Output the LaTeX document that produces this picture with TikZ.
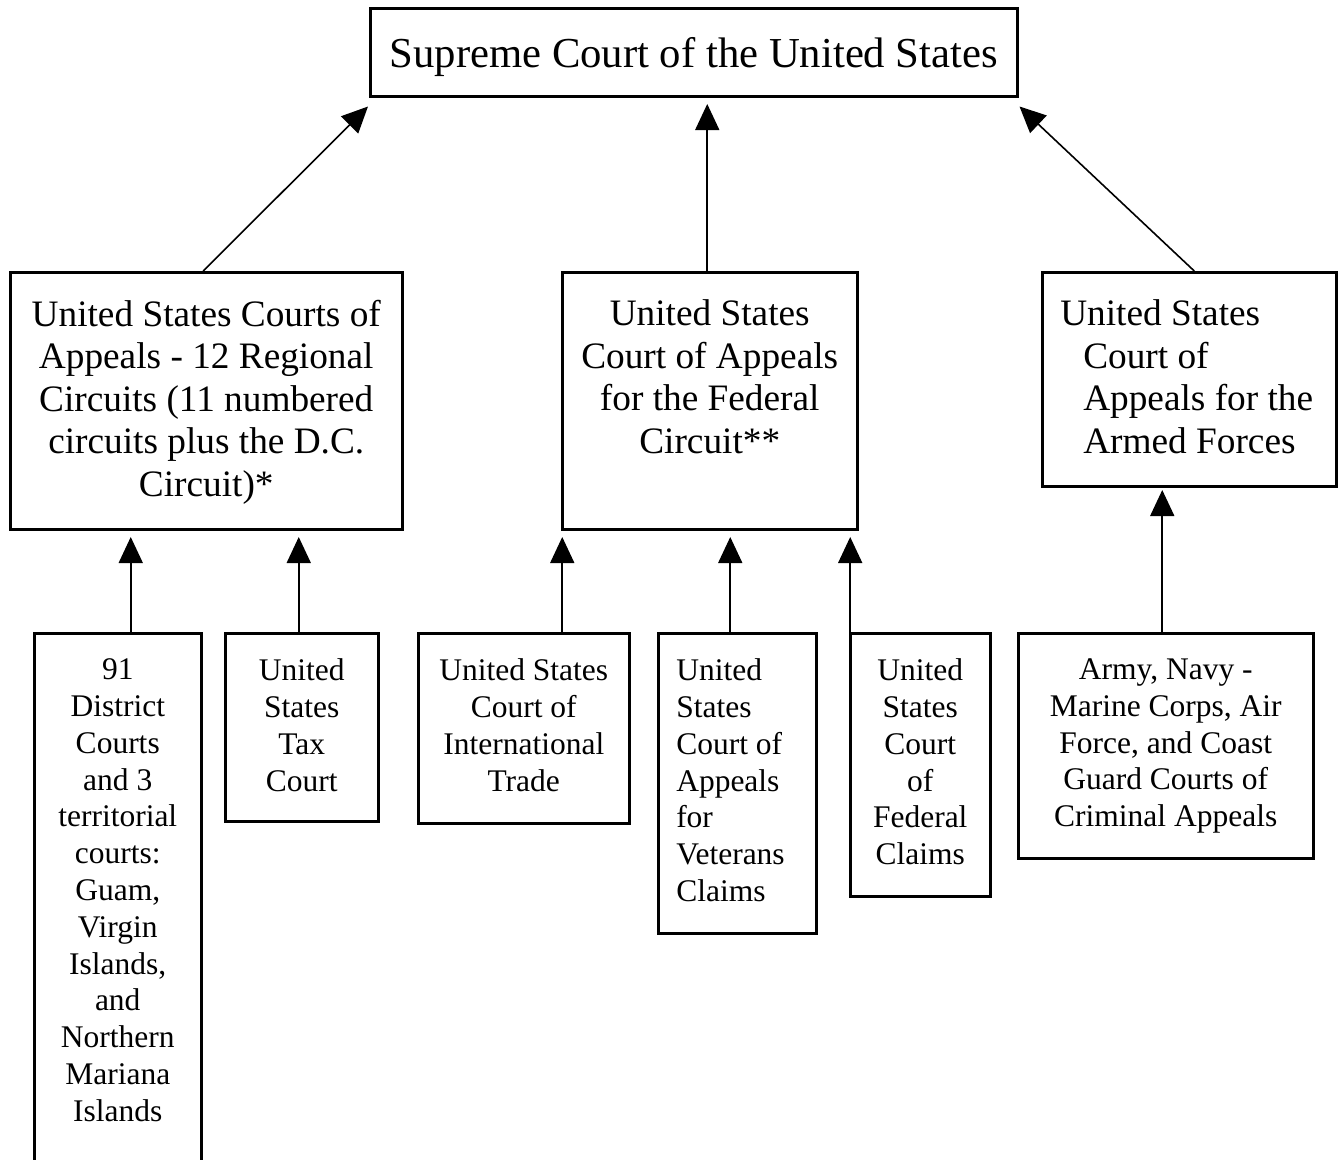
\documentclass[tikz,border=0pt]{standalone}
\usepackage{fontspec}
\setmainfont{Liberation Serif}
\usetikzlibrary{arrows.meta}

% text block of a court box: width, height, top pad, text
\newcommand{\courtbody}[4]{\parbox[t][#2pt][t]{#1pt}{\vspace*{#3pt}#4}}
\newcommand{\courtTop}{\fontsize{42.7pt}{49pt}\selectfont}
\newcommand{\courtMid}{\fontsize{37.3pt}{42.5pt}\selectfont}
\newcommand{\courtLow}{\fontsize{31.5pt}{36.8pt}\selectfont}

\begin{document}
\begin{tikzpicture}[x=1pt, y=-1pt,
  court/.style={draw, line width=2.5pt, inner sep=0pt, anchor=north west},
  up/.style={line width=1.6pt, -{Triangle[length=26pt, width=24pt]}}]
\useasboundingbox (0,0) rectangle (1343,1159);
% top
\node[court] (sup) at (369,7) {\courtbody{647}{88}{29}{\centering\courtTop Supreme Court of the United States}};
% middle row
\node[court] (regional) at (9,271) {\courtbody{392}{257}{27.5}{\centering\courtMid United States Courts of\\ Appeals - 12 Regional\\ Circuits (11 numbered\\ circuits plus the D.C.\\ Circuit)*}};
\node[court] (federal) at (561,271) {\courtbody{295}{257}{27.5}{\centering\courtMid United States\\ Court of Appeals\\ for the Federal\\ Circuit**}};
\node[court] (armed) at (1041,271) {\courtbody{294}{214}{27.5}{\raggedright\leftskip=18pt\courtMid United States\\ \hspace*{23pt}Court of\\ \hspace*{23pt}Appeals for the\\ \hspace*{23pt}Armed Forces}};
% bottom row
\node[court] (district) at (33,632) {\courtbody{167}{533}{25.5}{\centering\courtLow 91\\ District\\ Courts\\ and 3\\ territorial\\ courts:\\ Guam,\\ Virgin\\ Islands,\\ and\\ Northern\\ Mariana\\ Islands}};
\node[court] (tax) at (224,632) {\courtbody{153}{188}{25.5}{\centering\courtLow United\\ States\\ Tax\\ Court}};
\node[court] (cit) at (417,632) {\courtbody{211}{190}{25.5}{\centering\courtLow United States\\ Court of\\ International\\ Trade}};
\node[court] (vet) at (657,632) {\courtbody{158}{300}{25.5}{\raggedright\leftskip=18pt\courtLow United\\ States\\ Court of\\ Appeals\\ for\\ Veterans\\ Claims}};
\node[court] (fedclaims) at (849,632) {\courtbody{140}{263}{25.5}{\centering\courtLow United\\ States\\ Court\\ of\\ Federal\\ Claims}};
\node[court] (army) at (1017,632) {\courtbody{295}{225}{25.5}{\centering\courtLow Army, Navy -\\ Marine Corps, Air\\ Force, and Coast\\ Guard Courts of\\ Criminal Appeals}};
% arrows to the supreme court
\draw[up] ([xshift=-3pt]regional.north) -- ([xshift=-1pt,yshift=-9pt]sup.south west);
\draw[up] (federal.north) ++(-2.5,0) -- ++(0,-167);
\draw[up] ([xshift=5pt]armed.north) -- ([xshift=1pt,yshift=-9pt]sup.south east);
% arrows to the middle row
\draw[up] (district.north) ++(13,0) -- ++(0,-95);
\draw[up] (tax.north) ++(-3,0) -- ++(0,-95);
\draw[up] (cit.north) ++(38.5,0) -- ++(0,-95);
\draw[up] (vet.north) ++(-7,0) -- ++(0,-95);
\draw[up] (fedclaims.north west) ++(1.2,0) -- ++(0,-95);
\draw[up] (army.north) ++(-3.5,0) -- ++(0,-142);
\end{tikzpicture}
\end{document}
